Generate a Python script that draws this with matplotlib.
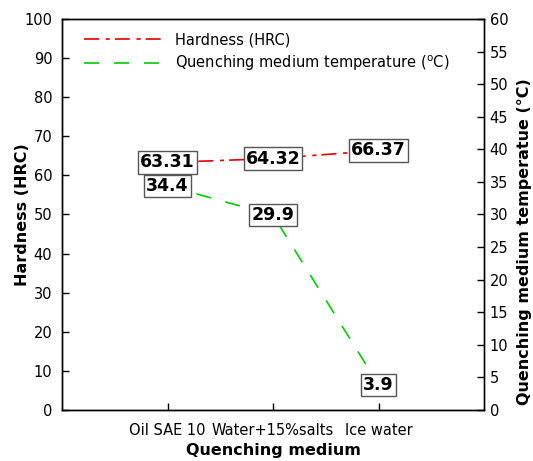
import matplotlib
matplotlib.use("Agg")
import matplotlib.pyplot as plt

plt.rcParams['font.family'] = ['DejaVu Sans']

categories = ["Oil SAE 10", "Water+15%salts", "Ice water"]
hardness = [63.31, 64.32, 66.37]
temperature = [34.4, 29.9, 3.9]
hardness_labels = ["63.31", "64.32", "66.37"]
temperature_labels = ["34.4", "29.9", "3.9"]

fig = plt.figure(figsize=(5.33, 4.61), dpi=100)
ax = fig.add_axes([62/533, 1-410/461, (484-62)/533, (410-19)/461])
ax2 = ax.twinx()

x = list(range(len(categories)))
l1, = ax.plot(x, hardness, color='#e00000', linestyle=(0, (9, 4, 2.5, 3)), lw=1.2,
              label='Hardness (HRC)', zorder=1)
l2, = ax2.plot(x, temperature, color='#00cc00', linestyle=(0, (9, 9)), lw=1.2,
               label='Quenching medium temperature ($^{\\mathrm{o}}$C)', zorder=1)

box = dict(boxstyle='square,pad=0.12', facecolor='white', edgecolor='#555555', lw=1.0)
for xi, v, t in zip(x, hardness, hardness_labels):
    ax.text(xi, v, t, ha='center', va='center', fontsize=12.5, fontweight='bold',
            bbox=box, zorder=5)
for xi, v, t in zip(x, temperature, temperature_labels):
    ax2.text(xi, v, t, ha='center', va='center', fontsize=12.5, fontweight='bold',
             bbox=box, zorder=5)

ax.set_xlim(-1, 3)
ax.set_ylim(0, 100)
ax2.set_ylim(0, 60)
ax.set_xticks(x)
ax.set_xticklabels(categories, fontsize=10.5)
ax.set_yticks(range(0, 101, 10))
ax2.set_yticks(range(0, 61, 5))
ax.tick_params(axis='y', direction='in', length=5, labelsize=10.5, width=1, pad=7)
ax.tick_params(axis='x', direction='in', length=5, labelsize=10.5, width=1, pad=9)
ax2.tick_params(axis='y', direction='in', length=5, labelsize=10.5, width=1, pad=4)
for a in (ax, ax2):
    for s in a.spines.values():
        s.set_linewidth(1.0)

ax.set_xlabel('Quenching medium', fontsize=11.5, fontweight='bold', labelpad=4)
ax.set_ylabel('Hardness (HRC)', fontsize=11.5, fontweight='bold')
ax.yaxis.set_label_coords(-0.077, 0.5)
ax2.set_ylabel('Quenching medium temperatue (°C)', fontsize=11.5, fontweight='bold')
ax2.yaxis.set_label_coords(1.078, 0.43)

leg = ax.legend(handles=[l1, l2], loc='upper left', frameon=False, fontsize=10.5,
                handlelength=5.3, bbox_to_anchor=(0.02, 1.0), labelspacing=0.45,
                handletextpad=1.0)

fig.savefig('out.png', dpi=100)
